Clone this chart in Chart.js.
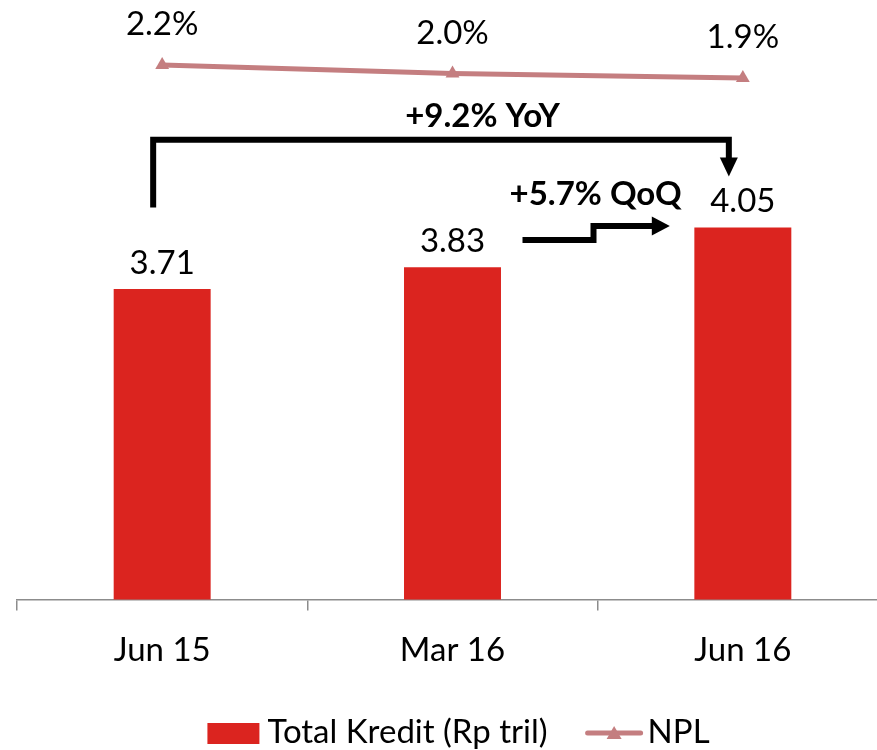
<!DOCTYPE html>
<html><head><meta charset="utf-8">
<script src="https://cdn.jsdelivr.net/npm/chart.js@4.4.0/dist/chart.umd.min.js"></script>
<style>
html,body{margin:0;padding:0;background:#fff;overflow:hidden;width:877px;height:750px}
#wrap{position:relative;width:877px;height:750px;overflow:hidden}
canvas{position:absolute;left:0;top:0}
</style></head>
<body><div id="wrap"><canvas id="c" width="900" height="750" style="width:900px;height:750px"></canvas></div>
<script>
// ---- data ----
const categories = ['Jun 15', 'Mar 16', 'Jun 16'];
const kredit = [3.71, 3.83, 4.05];
const npl = [2.2, 2.0, 1.9];
const kreditLabels = ['3.71', '3.83', '4.05'];
const nplLabels = ['2.2%', '2.0%', '1.9%'];
const seriesNames = ['Total Kredit (Rp tril)', 'NPL'];
const yoyText = '+9.2% YoY';
const qoqText = '+5.7% QoQ';

// ---- styles ----
const BAR_COLOR = '#DB241F';
const LINE_COLOR = '#C47E80';
const FONT = 'Lato';
const FS = 33;

const annotationPlugin = {
  id: 'annot',
  afterDatasetsDraw(chart) {
    const ctx = chart.ctx;
    const x = chart.scales.x, y = chart.scales.y;
    ctx.save();
    ctx.fillStyle = '#000';
    ctx.textAlign = 'center';
    ctx.textBaseline = 'alphabetic';
    ctx.font = FS + 'px ' + FONT;
    const barMeta = chart.getDatasetMeta(1);
    barMeta.data.forEach((el, i) => {
      ctx.fillText(kreditLabels[i], el.x, el.y - 15);
    });
    const lineMeta = chart.getDatasetMeta(0);
    lineMeta.data.forEach((el, i) => {
      ctx.fillText(nplLabels[i], el.x, el.y - 30);
    });

    // YoY bracket
    const c0 = x.getPixelForValue(0), c1 = x.getPixelForValue(1), c2 = x.getPixelForValue(2);
    ctx.strokeStyle = '#000';
    ctx.lineWidth = 6;
    ctx.lineJoin = 'miter';
    const lx = c0 - 9, rx = c2 - 14;
    const yb = y.getPixelForValue(4.16), yt = y.getPixelForValue(4.533), tip = y.getPixelForValue(4.33);
    ctx.beginPath();
    ctx.moveTo(lx, yb);
    ctx.lineTo(lx, yt);
    ctx.lineTo(rx, yt);
    ctx.lineTo(rx, tip - 16);
    ctx.stroke();
    ctx.beginPath();
    ctx.moveTo(rx - 9, tip - 19);
    ctx.lineTo(rx + 9, tip - 19);
    ctx.lineTo(rx, tip);
    ctx.closePath();
    ctx.fill();

    // QoQ step arrow
    const qy0 = y.getPixelForValue(3.98), qy1 = y.getPixelForValue(4.057);
    const qx0 = c1 + 70, qxs = c1 + 141, qtip = c2 - 73;
    ctx.beginPath();
    ctx.moveTo(qx0, qy0);
    ctx.lineTo(qxs, qy0);
    ctx.lineTo(qxs, qy1);
    ctx.lineTo(qtip - 16, qy1);
    ctx.stroke();
    ctx.beginPath();
    ctx.moveTo(qtip - 18, qy1 - 9.5);
    ctx.lineTo(qtip - 18, qy1 + 9.5);
    ctx.lineTo(qtip, qy1);
    ctx.closePath();
    ctx.fill();

    // annotation texts
    ctx.font = 'bold ' + FS + 'px ' + FONT;
    ctx.fillText(yoyText, c1 + 30, y.getPixelForValue(4.604));
    ctx.fillText(qoqText, (c1 + c2) / 2 - 2, y.getPixelForValue(4.176));

    // legend
    ctx.font = FS + 'px ' + FONT;
    ctx.textAlign = 'left';
    const w1 = ctx.measureText(seriesNames[0]).width;
    const w2 = ctx.measureText(seriesNames[1]).width;
    const boxW = 52, gap = 8, between = 38, lineW = 57, gap2 = 5;
    const total = boxW + gap + w1 + between + lineW + gap2 + w2;
    const cx = (chart.chartArea.left + chart.chartArea.right) / 2 + 6;
    let sx = cx - total / 2;
    const base = chart.height - 7;
    ctx.fillStyle = BAR_COLOR;
    ctx.fillRect(sx, base - 20, boxW, 21);
    sx += boxW + gap;
    ctx.fillStyle = '#000';
    ctx.fillText(seriesNames[0], sx, base);
    sx += w1 + between;
    ctx.strokeStyle = LINE_COLOR;
    ctx.lineWidth = 5;
    ctx.lineCap = 'round';
    ctx.beginPath();
    ctx.moveTo(sx + 2, base - 10);
    ctx.lineTo(sx + lineW - 2, base - 10);
    ctx.stroke();
    ctx.fillStyle = LINE_COLOR;
    const tx = sx + lineW / 2;
    ctx.beginPath();
    ctx.moveTo(tx - 7.5, base - 4);
    ctx.lineTo(tx + 7.5, base - 4);
    ctx.lineTo(tx, base - 17);
    ctx.closePath();
    ctx.fill();
    sx += lineW + gap2;
    ctx.fillStyle = '#000';
    ctx.fillText(seriesNames[1], sx, base);
    ctx.restore();
  }
};

new Chart(document.getElementById('c'), {
  type: 'bar',
  data: {
    labels: categories,
    datasets: [
      {
        type: 'line',
        label: seriesNames[1],
        data: npl,
        yAxisID: 'y2',
        borderColor: LINE_COLOR,
        backgroundColor: LINE_COLOR,
        borderWidth: 5,
        pointStyle: 'triangle',
        pointRadius: 8,
        pointBorderWidth: 0,
        tension: 0,
        order: 0
      },
      {
        type: 'bar',
        label: seriesNames[0],
        data: kredit,
        yAxisID: 'y',
        backgroundColor: BAR_COLOR,
        categoryPercentage: 1,
        barPercentage: 0.334,
        order: 1
      }
    ]
  },
  options: {
    responsive: false,
    animation: false,
    devicePixelRatio: 1,
    layout: { padding: { left: 17, right: 12, top: 55, bottom: 60 } },
    plugins: { legend: { display: false }, tooltip: { enabled: false } },
    scales: {
      x: {
        offset: true,
        grid: { display: true, offset: true, drawOnChartArea: false, drawTicks: true, tickLength: 11, color: '#8c8c8c', lineWidth: 1.5 },
        border: { display: true, color: '#8c8c8c', width: 1.5 },
        ticks: { color: '#000', font: { family: FONT, size: FS }, padding: 20 }
      },
      y: { display: false, min: 2.0, max: 5.0 },
      y2: { display: false, min: -10.18, max: 2.431 }
    }
  },
  plugins: [annotationPlugin]
});
</script>
</body></html>
